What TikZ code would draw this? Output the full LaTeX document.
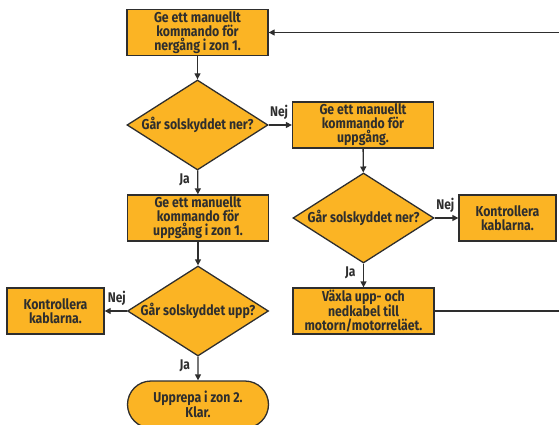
\documentclass[tikz,border=0pt]{standalone}
\usepackage{fontspec}
\setmainfont{Fira Sans}[BoldFont={* Bold},BoldFeatures={FakeStretch=0.86}]
\usetikzlibrary{shapes.geometric,shapes.misc,arrows.meta}
\definecolor{boxfill}{HTML}{FBB424}
\definecolor{ink}{HTML}{2E2E2E}
\tikzset{
  every node/.style={font=\bfseries\fontsize{14.3}{13.9}\selectfont, text=ink},
  stepbox/.style={draw=ink, line width=1.3pt, fill=boxfill, rectangle, align=center, inner sep=0pt, minimum width=141pt, minimum height=46pt},
  smallbox/.style={stepbox, minimum width=97pt},
  decide/.style={draw=ink, line width=1.3pt, fill=boxfill, diamond, inner sep=0pt, minimum width=141pt, minimum height=90pt},
  term/.style={draw=ink, line width=1.3pt, fill=boxfill, rounded rectangle, align=center, inner sep=0pt, minimum width=141pt, minimum height=47pt},
  conn/.style={draw=ink, line width=1.3pt, -{Triangle[length=6pt,width=6pt]}},
  plain/.style={draw=ink, line width=1.3pt},
  lbl/.style={font=\bfseries\fontsize{14}{14}\selectfont}
}
\begin{document}
\begin{tikzpicture}[x=1pt,y=-1pt]
\useasboundingbox (0,0) rectangle (559,425);
\node[stepbox] (b1) at (197.5,32.5) {Ge ett manuellt\\kommando för\\nergång i zon 1.};
\node[decide] (d1) at (197.5,125) {};
\node at (d1) {Går solskyddet ner?};
\node[stepbox] (b2) at (363,125) {Ge ett manuellt\\kommando för\\uppgång.};
\node[decide] (d2) at (363.5,218) {};
\node at (d2) {Går solskyddet ner?};
\node[smallbox] (k2) at (507.5,218) {Kontrollera\\kablarna.};
\node[stepbox] (v) at (363.5,311) {Växla upp- och\\nedkabel till\\motorn/motorreläet.};
\node[stepbox] (b3) at (198,218) {Ge ett manuellt\\kommando för\\uppgång i zon 1.};
\node[decide] (d3) at (198,311) {};
\node at (d3) {Går solskyddet upp?};
\node[smallbox] (k1) at (55.5,311) {Kontrollera\\kablarna.};
\node[term] (t) at (198,404.5) {Upprepa i zon 2.\\Klar.};
\coordinate (o1) at (600,311);
\coordinate (o2) at (600,32.5);

\draw[conn] (b1) -- (d1);
\draw[conn] (d1) -- node[lbl, above, pos=0.45, yshift=1pt] {Nej} (b2);
\draw[conn] (d1) -- node[lbl, left, pos=0.4, xshift=-4pt] {Ja} (b3);
\draw[conn] (b2) -- (d2);
\draw[conn] (d2) -- node[lbl, above, pos=0.45, yshift=1pt] {Nej} (k2);
\draw[conn] (d2) -- node[lbl, left, pos=0.4, xshift=-4pt] {Ja} (v);
\draw[conn] (b3) -- (d3);
\draw[conn] (d3) -- node[lbl, above, pos=0.45, yshift=1pt] {Nej} (k1);
\draw[conn] (d3) -- node[lbl, left, pos=0.4, xshift=-4pt] {Ja} (t);
\draw[plain] (v.east) -- (o1) -- (o2);
\draw[conn] (o2) -- (b1.east);
\end{tikzpicture}
\end{document}
